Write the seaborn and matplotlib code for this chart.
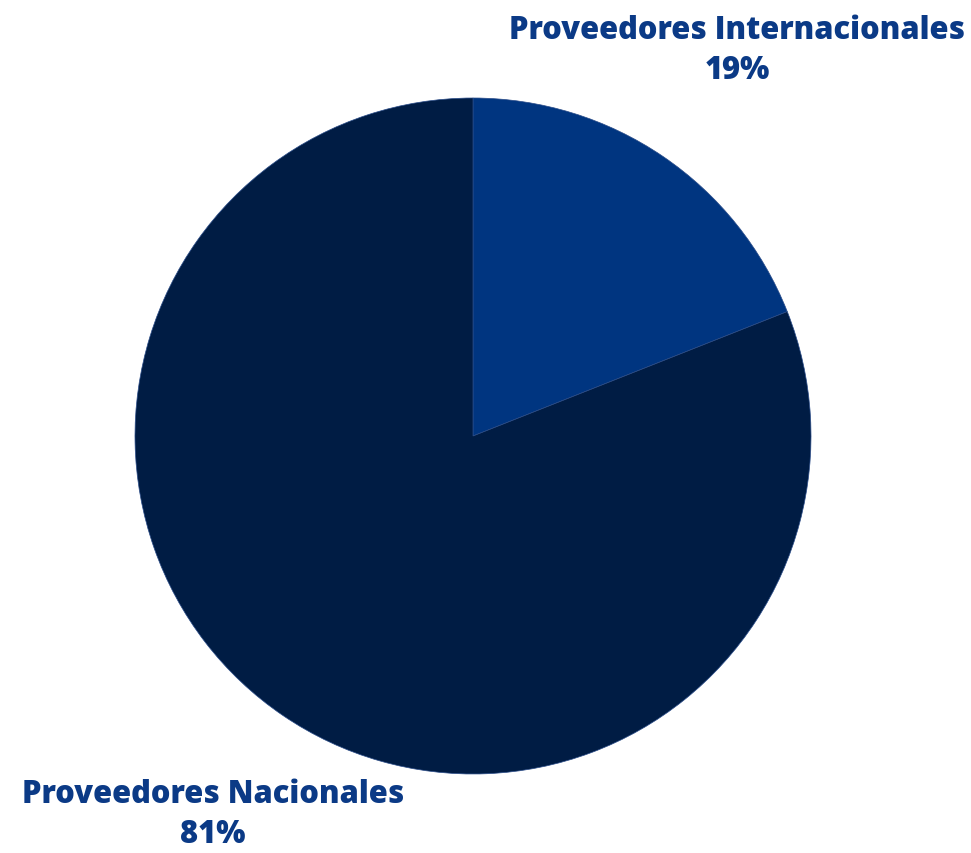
import matplotlib
matplotlib.use("Agg")
import matplotlib.pyplot as plt
import seaborn as sns

categorias = ["Proveedores Internacionales", "Proveedores Nacionales"]
porcentajes = [19, 81]
colores = ["#003580", "#001C44"]

sns.set_theme(style="white")
plt.rcParams['font.family'] = ['Open Sans', 'DejaVu Sans']

fig = plt.figure(figsize=(9.71, 8.54), dpi=100)
W, H = 971, 854
# pie centre (473, 437) radius 338 in pixels
ax = fig.add_axes([135 / W, (H - 775) / H, 676 / W, 676 / H])
ax.pie(porcentajes, colors=colores, startangle=90, counterclock=False,
       wedgeprops=dict(linewidth=0.5, edgecolor="#2a4c89"))
ax.set_xlim(-1, 1)
ax.set_ylim(-1, 1)
ax.set_aspect("equal")
ax.axis("off")

color_texto = "#0B3A86"
posiciones = [(737, 51), (213, 815)]
for nombre, pct, (px, py) in zip(categorias, porcentajes, posiciones):
    fig.text(px / W, 1 - py / H, f"{nombre}\n{pct}%", ha="center", va="center",
             fontsize=22.2, fontweight="heavy", color=color_texto, linespacing=1.3)

plt.savefig("out.png", dpi=100, facecolor="white")
